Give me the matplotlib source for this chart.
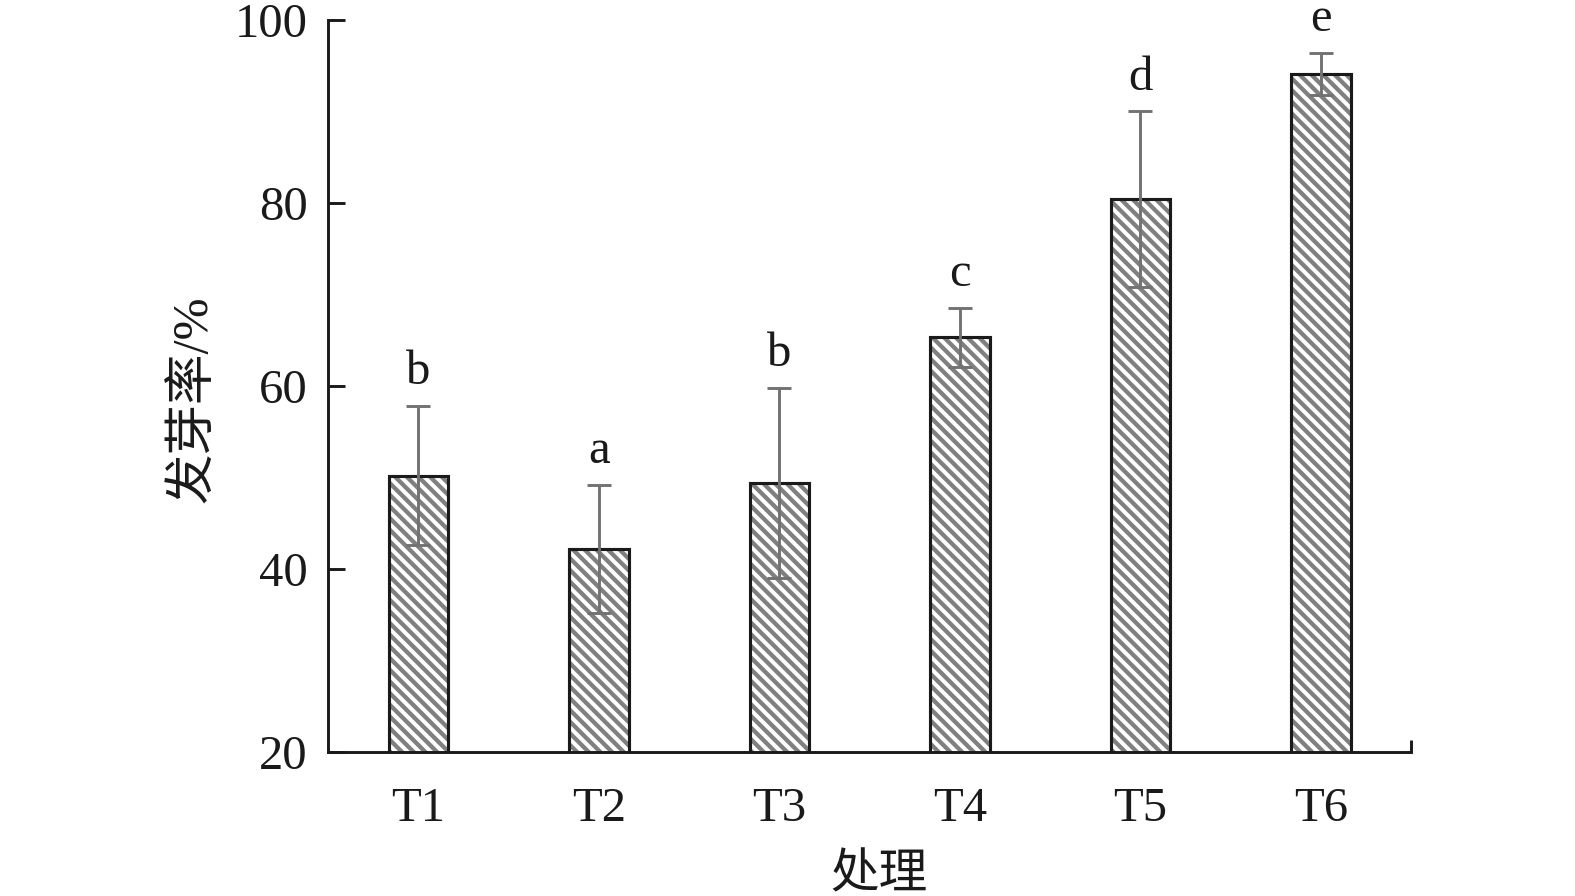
import matplotlib
matplotlib.use("Agg")
import matplotlib.pyplot as plt
import numpy as np

categories = ["T1", "T2", "T3", "T4", "T5", "T6"]
means = [50.2, 42.2, 49.4, 65.3, 80.4, 94.1]
errors = [7.6, 7.0, 10.4, 3.2, 9.6, 2.3]
letters = ["b", "a", "b", "c", "d", "e"]
yticks = [20, 40, 60, 80, 100]

DPI = 70
plt.rcParams['font.family'] = ['Liberation Serif', 'Noto Sans CJK SC']
plt.rcParams['hatch.linewidth'] = 4.4

fig = plt.figure(figsize=(1575 / DPI, 896 / DPI), dpi=DPI)
ax = fig.add_axes([0.2083, 0.1607, 0.6876, 0.8170])

x = np.arange(len(categories))
w = 0.33
ax.bar(x, means, width=w, bottom=0, color='white', edgecolor='#808080',
       hatch='\\\\', linewidth=0, zorder=2)
ax.bar(x, means, width=w, bottom=0, fill=False, edgecolor='#1a1a1a',
       linewidth=3.2, zorder=3)
ax.errorbar(x, means, yerr=errors, fmt='none', ecolor='#727272',
            elinewidth=3.0, capsize=12.3, capthick=3.0, zorder=4)

for xi, m, e, l in zip(x, means, errors, letters):
    ax.text(xi, m + e + 2.4, l, ha='center', va='baseline', fontsize=50,
            color='#1a1a1a')

ax.set_xlim(-0.5, 5.5)
ax.set_ylim(20, 100)
ax.set_yticks(yticks)
ax.set_yticklabels([str(v) for v in yticks])
ax.set_xticks(x)
ax.set_xticklabels(categories)
ax.set_xticks([5.5], minor=True)
ax.tick_params(axis='y', direction='in', length=17, width=3.0, pad=21,
               labelsize=50, colors='#1a1a1a')
ax.tick_params(axis='x', which='major', length=0, pad=36, labelsize=50,
               colors='#1a1a1a')
ax.tick_params(axis='x', which='minor', direction='in', length=12, width=3.0,
               colors='#1a1a1a')

for s in ['top', 'right']:
    ax.spines[s].set_visible(False)
for s in ['left', 'bottom']:
    ax.spines[s].set_linewidth(3.0)
    ax.spines[s].set_color('#1a1a1a')
    ax.spines[s].set_zorder(5)

ax.set_ylabel("发芽率/%", fontsize=52, color='#1a1a1a', labelpad=17)
ax.yaxis.label.set_y(0.482)
ax.set_xlabel("处理", fontsize=50, color='#1a1a1a', labelpad=24)
ax.xaxis.label.set_x(0.509)

fig.savefig("out.png", dpi=DPI)
